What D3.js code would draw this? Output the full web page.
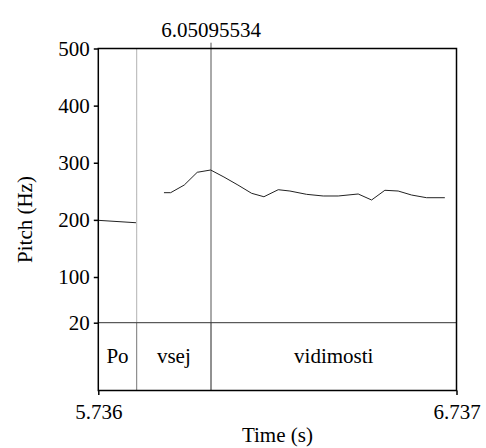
<!DOCTYPE html>
<html>
<head>
<meta charset="utf-8">
<script src="https://cdn.jsdelivr.net/npm/d3@7"></script>
<style>
  body { margin: 0; background: #fff; }
</style>
</head>
<body>
<div id="chart"></div>
<script>
// pitch track (Hz), NaN = unvoiced gap
const pitchTime = [5.736, 5.8413, 5.8433,
  5.9195, 5.9382, 5.9762, 6.0125, 6.0500, 6.0871, 6.1262, 6.1645, 6.1988, 6.2388,
  6.2715, 6.3181, 6.3645, 6.4064, 6.4623, 6.4997, 6.5368, 6.5740, 6.6114, 6.6533, 6.7044]
const pitchHz = [199.2, 195.0, NaN,
  247.6, 247.6, 261, 283.3, 287.3, 275, 261, 246.5, 240.5, 252.8,
  250.5, 244.7, 241.8, 241.8, 245.3, 234.8, 251.8, 250.5, 243.5, 238.8, 238.8]

// text tier
const tierBounds = [5.736, 5.8433, 6.05095534, 6.737]
const tierLabels = ["Po", "vsej", "vidimosti"]

const cursorTime = 6.05095534
const yTicks = [20, 100, 200, 300, 400, 500]
const xTicks = [5.736, 6.737]

const W = 486, H = 448
const box = { left: 98.3, right: 456.5, top: 48.5, pitchBottom: 322.7, bottom: 390.5 }
const fontSize = "21px"
const serif = "'Liberation Serif', 'DejaVu Serif', serif"

const svg = d3.select("#chart").append("svg")
    .attr("width", W)
    .attr("height", H)
    .style("font-family", serif)

const x = d3.scaleLinear().domain([5.736, 6.737]).range([box.left, box.right])
const y = d3.scaleLinear().domain([20, 500]).range([box.pitchBottom, box.top])

// interval boundaries in the pitch area (dotted) and in the tier (solid)
svg.selectAll(".bound-top")
    .data(tierBounds.slice(1, -1).filter(d => d !== cursorTime))
    .join("line")
    .attr("x1", d => x(d)).attr("x2", d => x(d))
    .attr("y1", box.top).attr("y2", box.pitchBottom)
    .attr("stroke", "#666")
    .attr("stroke-width", 1)
    .attr("stroke-dasharray", "1,1")

svg.selectAll(".bound-tier")
    .data(tierBounds.slice(1, -1))
    .join("line")
    .attr("x1", d => x(d)).attr("x2", d => x(d))
    .attr("y1", box.pitchBottom).attr("y2", box.bottom)
    .attr("stroke", d => d === cursorTime ? "#222" : "#777")
    .attr("stroke-width", 1)

// cursor
svg.append("line")
    .attr("x1", x(cursorTime)).attr("x2", x(cursorTime))
    .attr("y1", 42.7).attr("y2", box.pitchBottom)
    .attr("stroke", "#555")
    .attr("stroke-width", 1)

svg.append("text")
    .attr("x", x(cursorTime))
    .attr("y", 36.7)
    .attr("text-anchor", "middle")
    .style("font-family", serif)
    .style("font-size", fontSize)
    .text(cursorTime.toFixed(8))

// tier separator at 20 Hz
svg.append("line")
    .attr("x1", box.left).attr("x2", box.right)
    .attr("y1", box.pitchBottom).attr("y2", box.pitchBottom)
    .attr("stroke", "#333")
    .attr("stroke-width", 1)

// pitch curve
const line = d3.line()
    .defined((d, i) => !isNaN(pitchHz[i]))
    .x(d => x(d))
    .y((d, i) => y(pitchHz[i]))

svg.append("path")
    .attr("d", line(pitchTime))
    .attr("fill", "none")
    .attr("stroke", "#222")
    .attr("stroke-width", 1)

// tier labels
svg.selectAll(".tier-label")
    .data(tierLabels)
    .join("text")
    .attr("x", (d, i) => (x(tierBounds[i]) + x(tierBounds[i + 1])) / 2)
    .attr("y", 363.3)
    .attr("text-anchor", "middle")
    .style("font-family", serif)
    .style("font-size", fontSize)
    .text(d => d)

// frame
svg.append("rect")
    .attr("x", box.left).attr("y", box.top)
    .attr("width", box.right - box.left)
    .attr("height", box.bottom - box.top)
    .attr("fill", "none")
    .attr("stroke", "#000")
    .attr("stroke-width", 1.5)

// axes
const yAxis = d3.axisLeft(y)
    .tickValues(yTicks)
    .tickSize(4.5)
    .tickPadding(4)
    .tickFormat(d3.format("d"))

const gy = svg.append("g")
    .attr("transform", `translate(${box.left},0)`)
    .call(yAxis)
    .attr("font-family", null)
    .attr("font-size", null)
gy.select(".domain").remove()
gy.selectAll("line").attr("stroke", "#000").attr("stroke-width", 1.5)
gy.selectAll("text").style("font-family", serif).style("font-size", fontSize).attr("fill", "#000")

const xAxis = d3.axisBottom(x)
    .tickValues(xTicks)
    .tickSize(4.5)
    .tickPadding(9)
    .tickFormat(d3.format(".3f"))

const gx = svg.append("g")
    .attr("transform", `translate(0,${box.bottom})`)
    .call(xAxis)
    .attr("font-family", null)
    .attr("font-size", null)
gx.select(".domain").remove()
gx.selectAll("line").attr("stroke", "#000").attr("stroke-width", 1.5)
gx.selectAll("text").style("font-family", serif).style("font-size", fontSize).attr("fill", "#000")

// axis titles
svg.append("text")
    .attr("x", (box.left + box.right) / 2)
    .attr("y", 442.3)
    .attr("text-anchor", "middle")
    .style("font-family", serif)
    .style("font-size", fontSize)
    .text("Time (s)")

svg.append("text")
    .attr("transform", `translate(31.7,${(box.top + box.bottom) / 2}) rotate(-90)`)
    .attr("text-anchor", "middle")
    .style("font-family", serif)
    .style("font-size", fontSize)
    .text("Pitch (Hz)")
</script>
</body>
</html>
